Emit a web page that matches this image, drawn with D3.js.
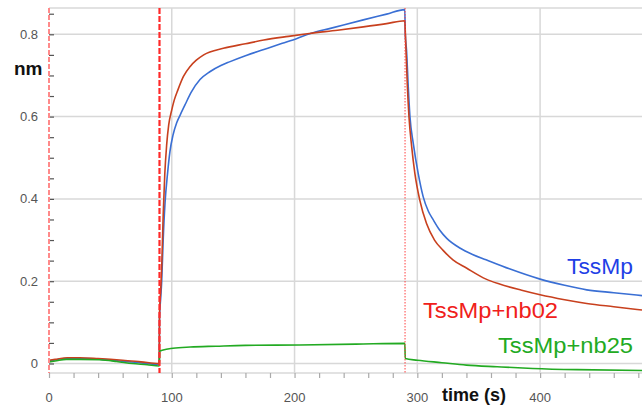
<!DOCTYPE html>
<html>
<head>
<meta charset="utf-8">
<script src="https://cdn.jsdelivr.net/npm/d3@7"></script>
<style>
  body { margin: 0; background: #fff; }
  text { font-family: "Liberation Sans", Arial, sans-serif; }
</style>
</head>
<body>
<svg width="642" height="408"></svg>
<script>
// sensorgram traces: [time (s), response (nm)]
const tssmp = [
  [0, 0.006], [15, 0.012], [30, 0.012], [50, 0.008], [70, 0.003], [89.8, -0.002],
  [90, 0.11], [91, 0.16], [91.8, 0.2], [93, 0.3], [94.5, 0.39], [96.5, 0.46], [98.5, 0.515],
  [101, 0.555], [104, 0.585], [107, 0.605], [111, 0.63], [116, 0.66], [123, 0.69],
  [131, 0.709], [140, 0.724], [147, 0.733], [160, 0.748], [175, 0.763], [190, 0.778],
  [202, 0.79], [213, 0.802], [230, 0.815], [256, 0.835], [275, 0.849], [289.8, 0.86],
  [290.2, 0.80], [291.2, 0.762], [292.6, 0.673], [294, 0.60], [296.7, 0.535], [300.7, 0.462],
  [304.8, 0.405], [309, 0.37], [313, 0.349], [318, 0.325], [324, 0.304], [335, 0.28],
  [345, 0.265], [356, 0.252], [375, 0.23], [400, 0.205], [420, 0.19], [438, 0.179],
  [460, 0.172], [483, 0.165]
];

const nb02 = [
  [0, 0.008], [5, 0.01], [15, 0.014], [25, 0.014], [40, 0.012], [60, 0.008], [75, 0.004], [89.8, 0.0],
  [90, 0.12], [91, 0.18], [91.8, 0.235], [93, 0.36], [94.3, 0.46], [95.8, 0.53], [97.5, 0.58],
  [99.9, 0.615], [102, 0.64], [105, 0.665], [109.4, 0.697], [115, 0.722], [120, 0.737],
  [126, 0.75], [142, 0.766], [160, 0.777], [175, 0.786], [195, 0.795], [212, 0.802],
  [235, 0.81], [256, 0.818], [275, 0.826], [289.8, 0.833],
  [290.3, 0.80], [291.8, 0.68], [293.2, 0.60], [295.4, 0.527], [298, 0.462], [302, 0.397],
  [307.5, 0.34], [314, 0.30], [321, 0.275], [329, 0.252], [340, 0.232], [356, 0.205],
  [367, 0.193], [385, 0.178], [400, 0.167], [420, 0.155], [438, 0.146], [460, 0.138], [483, 0.13]
];

const nb25 = [
  [0, 0.004], [5, 0.006], [14, 0.01], [25, 0.01], [41, 0.009], [55, 0.005], [68, 0.0],
  [80, -0.003], [89.8, -0.006],
  [90.2, 0.03], [93, 0.033], [101, 0.037], [115, 0.04], [136, 0.042], [160, 0.044],
  [204, 0.045], [250, 0.047], [289.8, 0.049],
  [290.2, 0.012], [300, 0.008], [320, 0.002], [340, -0.004], [365, -0.008], [394, -0.012],
  [430, -0.015], [483, -0.017]
];

const yTicks = [0, 0.2, 0.4, 0.6, 0.8];
const xTicks = [0, 100, 200, 300, 400];
const phaseMarks = [0, 90, 290];

const svg = d3.select("svg");
const pLeft = 49, pRight = 642, pTop = 8, pBottom = 373;

const x = d3.scaleLinear().domain([0, 483]).range([pLeft, pRight]);
const y = d3.scaleLinear().domain([0, 0.8]).range([363.5, 34.3]);

// grid
const grid = svg.append("g").attr("stroke", "#d8d8d8").attr("stroke-width", 1.5);
grid.selectAll(".hg").data(yTicks).enter().append("line")
  .attr("x1", pLeft).attr("x2", pRight)
  .attr("y1", d => y(d)).attr("y2", d => y(d));
grid.selectAll(".vg").data(xTicks.slice(1)).enter().append("line")
  .attr("x1", d => x(d)).attr("x2", d => x(d))
  .attr("y1", pTop).attr("y2", pBottom);
grid.append("line").attr("x1", pLeft).attr("x2", pRight).attr("y1", pTop).attr("y2", pTop);
grid.append("line").attr("x1", pLeft).attr("x2", pRight).attr("y1", pBottom).attr("y2", pBottom);

// minor ticks
const yMinor = svg.append("g")
  .attr("transform", `translate(${pLeft},0)`)
  .call(d3.axisRight(y).tickValues(d3.range(0, 0.86, 0.05)).tickSize(5).tickFormat(""));
yMinor.select(".domain").remove();
yMinor.selectAll("line").attr("stroke", "#555").attr("stroke-width", 1.2);

const xMinor = svg.append("g")
  .attr("transform", `translate(0,${pBottom})`)
  .call(d3.axisBottom(x).tickValues(d3.range(0, 481, 20)).tickSize(5).tickFormat(""));
xMinor.select(".domain").remove();
xMinor.selectAll("line").attr("stroke", "#aaa").attr("stroke-width", 1.2);

// tick labels
svg.selectAll(".ylab").data(yTicks).enter().append("text")
  .attr("x", 38).attr("y", d => y(d) + 4.5)
  .attr("text-anchor", "end").attr("font-size", 13).attr("fill", "#555")
  .text(d => d === 0 ? "0" : d.toFixed(1));

svg.selectAll(".xlab").data(xTicks).enter().append("text")
  .attr("x", d => x(d)).attr("y", 401.5)
  .attr("text-anchor", "middle").attr("font-size", 13).attr("fill", "#555")
  .text(d => d);

svg.append("text").attr("x", 14).attr("y", 75)
  .attr("font-size", 19).attr("font-weight", "bold").attr("fill", "#111")
  .text("nm");

svg.append("text").attr("x", 442).attr("y", 401)
  .attr("font-size", 18).attr("font-weight", "bold").attr("fill", "#111")
  .text("time (s)");

// curves
svg.append("clipPath").attr("id", "plot").append("rect")
  .attr("x", pLeft).attr("y", pTop).attr("width", pRight - pLeft).attr("height", pBottom - pTop);

const line = d3.line().curve(d3.curveMonotoneX).x(d => x(d[0])).y(d => y(d[1]));
const curves = svg.append("g").attr("clip-path", "url(#plot)");
[[tssmp, "#3a6fd4"], [nb02, "#c8401e"], [nb25, "#22aa22"]].forEach(([data, col]) => {
  curves.append("path").datum(data)
    .attr("d", line)
    .attr("fill", "none")
    .attr("stroke", col)
    .attr("stroke-width", 1.6)
    .attr("stroke-linejoin", "round");
});

// phase markers
const markStyle = [
  { color: "#ff8a8a", width: 2, dash: "5,2" },
  { color: "#ff2a2a", width: 2.2, dash: "6,2" },
  { color: "#ff4040", width: 1, dash: "1.5,1.5" }
];
svg.selectAll(".phase").data(phaseMarks).enter().append("line")
  .attr("x1", d => x(d)).attr("x2", d => x(d))
  .attr("y1", pTop).attr("y2", pBottom)
  .attr("stroke", (d, i) => markStyle[i].color)
  .attr("stroke-width", (d, i) => markStyle[i].width)
  .attr("stroke-dasharray", (d, i) => markStyle[i].dash);

// series labels
const labels = [
  { text: "TssMp", x: 567, y: 274, color: "#1f3fe6", len: 66 },
  { text: "TssMp+nb02", x: 423, y: 318, color: "#f0201a", len: 135 },
  { text: "TssMp+nb25", x: 498, y: 353, color: "#22aa22", len: 135 }
];
svg.selectAll(".lab").data(labels).enter().append("text")
  .attr("x", d => d.x).attr("y", d => d.y)
  .attr("font-size", 22).attr("fill", d => d.color)
  .attr("textLength", d => d.len).attr("lengthAdjust", "spacingAndGlyphs")
  .text(d => d.text);
</script>
</body>
</html>
